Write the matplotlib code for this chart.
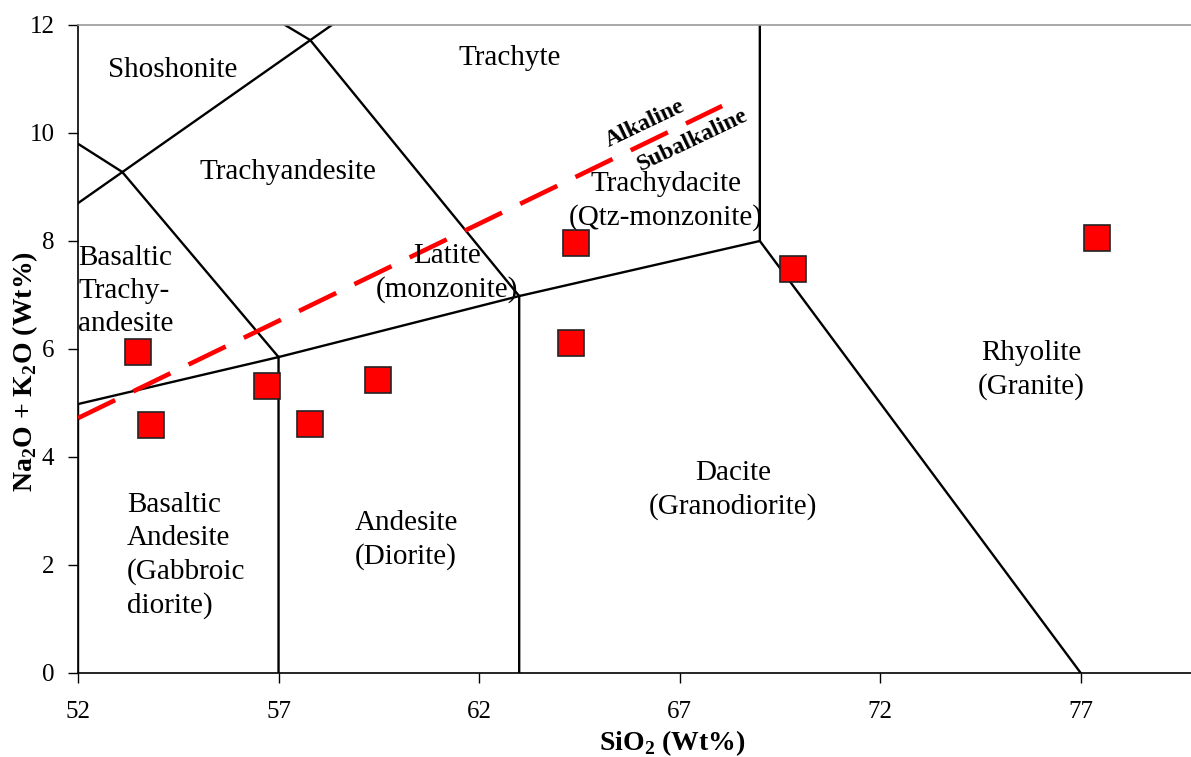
import matplotlib
matplotlib.use("Agg")
import matplotlib.pyplot as plt

plt.rcParams['font.family'] = ['Liberation Serif', 'DejaVu Serif']
plt.rcParams['mathtext.fontset'] = 'custom'
plt.rcParams['mathtext.rm'] = 'Liberation Serif'
plt.rcParams['mathtext.bf'] = 'Liberation Serif:bold'

# sample compositions (SiO2 vs total alkalis)
sio2 = [53.5, 53.82, 56.71, 57.79, 59.48, 64.41, 64.29, 69.82, 77.41]
alkali = [5.95, 4.59, 5.31, 4.61, 5.43, 7.96, 6.11, 7.48, 8.06]

# TAS field boundaries, each a polyline of (SiO2, Na2O+K2O)
boundaries = [
    [(52, 0), (52, 4.98), (57, 5.85), (57, 0)],
    [(57, 5.85), (63, 6.98), (63, 0)],
    [(63, 6.98), (69, 8.0), (69, 12.0)],
    [(69, 8.0), (77, 0)],
    [(52, 9.8), (53.1, 9.28), (57, 5.85)],
    [(52, 8.7), (58.33, 12.0)],
    [(63, 6.98), (57.79, 11.72), (57.16, 12.0)],
]

# alkaline / subalkaline divide
divide_x = [52.0, 68.06]
divide_y = [4.72, 10.5]

# field names: (text, x, y, horizontal alignment)
fields = [
    ("Shoshonite", 54.35, 11.17, "center"),
    ("Trachyte", 62.77, 11.39, "center"),
    ("Trachyandesite", 57.24, 9.28, "center"),
    ("Trachydacite\n(Qtz-monzonite)", 66.66, 8.74, "center"),
    ("Latite\n(monzonite)", 61.2, 7.41, "center"),
    ("Basaltic\nTrachy-\nandesite", 52.0, 7.07, "left"),
    ("Rhyolite\n(Granite)", 75.77, 5.61, "center"),
    ("Dacite\n(Granodiorite)", 68.33, 3.39, "center"),
    ("Andesite\n(Diorite)", 60.18, 2.46, "center"),
    ("Basaltic\nAndesite\n(Gabbroic\ndiorite)", 53.22, 2.17, "left"),
]

fig = plt.figure(figsize=(11.91, 7.57), dpi=100)
ax = fig.add_axes([0.0655, 0.111, 0.9345, 0.856])

for line in boundaries:
    xs = [p[0] for p in line]
    ys = [p[1] for p in line]
    ax.plot(xs, ys, color='black', lw=1.7, solid_joinstyle='miter', zorder=2)

ax.plot(divide_x, divide_y, color='#ff0000', lw=3.3, dashes=(9.0, 4.4),
        dash_capstyle='butt', zorder=3)
ax.text(66.14, 10.18, "Alkaline", rotation=25.5, fontsize=17, fontweight='bold',
        ha='center', va='center', rotation_mode='anchor', zorder=4)
ax.text(67.31, 9.87, "Subalkaline", rotation=25.5, fontsize=17, fontweight='bold',
        ha='center', va='center', rotation_mode='anchor', zorder=4)

for label, x, y, ha in fields:
    ax.text(x, y, label, fontsize=21, ha=ha, va='center', multialignment=ha,
            linespacing=1.35, zorder=4)

ax.plot(sio2, alkali, linestyle='none', marker='s', markersize=19,
        markerfacecolor='#ff0000', markeredgecolor='#222222', markeredgewidth=1.2,
        zorder=5, clip_on=False)

ax.set_xlim(52, 79.75)
ax.set_ylim(0, 12)
ax.set_xticks([52, 57, 62, 67, 72, 77])
ax.set_yticks([0, 2, 4, 6, 8, 10, 12])
ax.tick_params(direction='out', length=7, width=1, labelsize=18, pad=13, axis='x')
ax.tick_params(direction='out', length=7, width=1, labelsize=18, pad=10, axis='y')

ax.spines['right'].set_visible(False)
ax.spines['top'].set_color('#999999')
ax.spines['top'].set_linewidth(1.2)
ax.spines['left'].set_linewidth(1.2)
ax.spines['bottom'].set_linewidth(1.2)

ax.set_xlabel(r"SiO$_\mathbf{2}$ (Wt%)", fontsize=20, fontweight='bold',
              va='center', ha='center')
ax.xaxis.set_label_coords(0.534, -0.108)
ax.set_ylabel(r"Na$_\mathbf{2}$O + K$_\mathbf{2}$O (Wt%)", fontsize=20,
              fontweight='bold', va='center', ha='center')
ax.yaxis.set_label_coords(-0.0476, 0.465)

fig.savefig("out.png", dpi=100)
